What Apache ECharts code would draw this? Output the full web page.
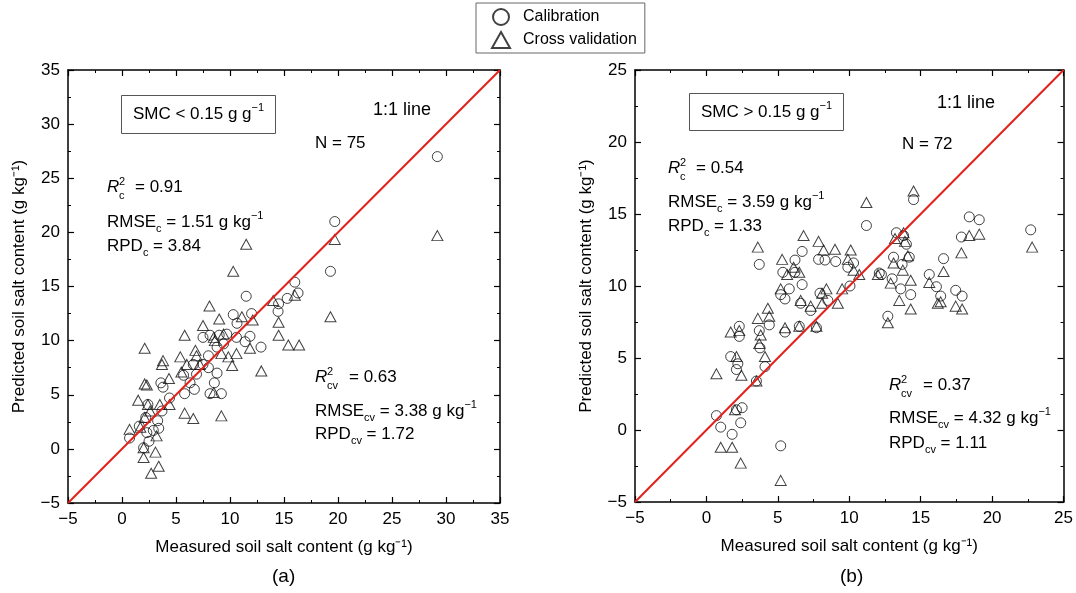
<!DOCTYPE html>
<html>
<head>
<meta charset="utf-8">
<script src="https://cdn.jsdelivr.net/npm/echarts@6/dist/echarts.min.js"></script>
<style>
  html, body { margin: 0; padding: 0; background: #fff; }
  #chart { width: 1076px; height: 593px; }
</style>
</head>
<body>
<div id="chart"></div>
<script>
// panel (a): SMC < 0.15, measured vs predicted [x, y]
const calibrationA = [
  [29.2, 27.0], [19.7, 21.0], [19.3, 16.4], [16.0, 15.4], [16.3, 14.4], [15.3, 13.9],
  [14.5, 13.4], [14.45, 12.7], [11.5, 14.1], [12.0, 12.5], [10.3, 12.4], [10.65, 11.6],
  [11.85, 10.4], [12.87, 9.4], [11.4, 9.9], [7.5, 10.3], [8.15, 10.5], [9.0, 10.5],
  [9.7, 10.6], [10.6, 10.3], [8.8, 9.4], [9.4, 9.7], [8.0, 8.6], [7.5, 7.8],
  [8.8, 7.0], [8.55, 6.1], [9.2, 5.1], [8.0, 7.5], [6.6, 7.8], [6.9, 6.9],
  [6.7, 5.5], [5.8, 5.1], [6.3, 6.1], [5.7, 6.8], [3.6, 6.1], [3.8, 5.7],
  [4.4, 4.7], [3.7, 3.5], [3.3, 2.6], [3.4, 1.9], [2.9, 1.7], [2.3, 1.5],
  [2.5, 0.7], [2.0, 0.1], [1.6, 2.1], [0.7, 1.0], [2.4, 4.1], [2.2, 2.9],
  [8.15, 5.1]
];
const crossValA = [
  [29.2, 19.7], [19.7, 19.35], [19.3, 12.2], [11.5, 18.9], [10.3, 16.4], [8.1, 13.2],
  [9.0, 12.0], [5.8, 10.5], [7.5, 11.4], [2.1, 9.3], [11.1, 12.2], [12.1, 11.9],
  [14.0, 13.7], [16.0, 14.2], [14.5, 11.7], [14.5, 10.5], [15.4, 9.6], [16.4, 9.6],
  [12.9, 7.2], [11.85, 9.3], [10.6, 8.8], [10.2, 7.7], [9.85, 8.5], [9.4, 10.6],
  [8.5, 10.3], [8.6, 10.0], [9.2, 8.8], [6.8, 9.1], [6.9, 8.6], [5.4, 8.5],
  [6.0, 7.8], [7.2, 7.8], [5.5, 7.1], [3.8, 8.15], [3.7, 7.8], [4.35, 6.5],
  [2.1, 6.0], [2.3, 5.9], [8.5, 5.2], [5.8, 3.3], [6.6, 2.8], [9.2, 3.05],
  [1.5, 4.5], [2.4, 4.1], [3.5, 4.1], [4.4, 4.1], [0.7, 1.8], [1.7, 2.0],
  [2.1, 2.9], [3.2, 1.2], [2.0, 0.1], [3.1, -0.3], [2.0, -0.8], [3.4, -1.6],
  [2.7, -2.25], [2.6, 3.5]
];

// panel (b): SMC > 0.15
const calibrationB = [
  [22.7, 13.9], [18.4, 14.8], [19.1, 14.6], [17.85, 13.4], [16.6, 11.9], [15.6, 10.8],
  [16.1, 9.95], [16.4, 9.3], [17.45, 9.7], [17.9, 9.3], [14.5, 16.0], [11.2, 14.2],
  [13.3, 13.7], [13.8, 13.5], [14.0, 12.9], [13.1, 12.0], [14.2, 12.0], [13.7, 11.5],
  [13.0, 10.5], [13.6, 9.8], [14.3, 9.4], [12.7, 7.9], [12.1, 10.9], [12.25, 10.8],
  [10.05, 10.0], [10.3, 11.6], [9.9, 11.3], [9.05, 11.7], [7.85, 11.85], [8.3, 11.8],
  [6.7, 12.4], [6.2, 11.8], [6.7, 10.1], [6.2, 10.95], [5.35, 10.95], [5.8, 9.8],
  [5.5, 9.1], [5.2, 9.4], [6.6, 8.8], [7.3, 8.3], [8.5, 9.0], [7.95, 9.5],
  [6.5, 7.2], [7.7, 7.1], [5.5, 6.8], [3.7, 11.5], [4.4, 7.3], [3.7, 6.9],
  [3.75, 5.7], [4.1, 4.4], [2.3, 7.2], [2.3, 6.5], [1.7, 5.1], [2.1, 4.2],
  [2.2, 4.6], [3.5, 3.4], [2.5, 1.55], [2.4, 0.5], [2.1, 1.4], [0.7, 1.0],
  [1.0, 0.2], [1.8, -0.3], [5.2, -1.1]
];
const crossValB = [
  [22.8, 12.7], [18.4, 13.5], [19.1, 13.6], [17.85, 12.3], [16.6, 11.0], [15.6, 10.25],
  [16.2, 8.8], [16.4, 8.9], [17.45, 8.6], [17.9, 8.4], [14.5, 16.6], [11.2, 15.8],
  [13.2, 13.3], [13.8, 13.7], [13.9, 13.1], [13.1, 11.6], [14.1, 12.1], [13.75, 11.1],
  [12.9, 10.2], [14.3, 10.4], [13.5, 9.0], [14.3, 8.4], [12.7, 7.45], [12.0, 10.8],
  [10.7, 10.8], [10.3, 11.1], [10.1, 12.5], [9.9, 11.85], [9.0, 12.55], [8.2, 12.5],
  [7.85, 13.1], [6.8, 13.5], [6.5, 10.95], [6.1, 11.3], [5.65, 10.8], [5.3, 11.85],
  [5.2, 9.8], [6.6, 9.0], [7.3, 8.6], [8.1, 9.5], [8.4, 9.8], [9.2, 8.8],
  [9.5, 9.8], [8.1, 8.8], [6.5, 7.2], [7.7, 7.2], [5.5, 7.1], [3.6, 12.7],
  [4.3, 8.45], [4.4, 7.9], [3.6, 7.75], [3.8, 6.6], [3.7, 6.0], [4.1, 5.1],
  [1.7, 6.8], [2.3, 6.9], [2.1, 5.1], [2.45, 3.8], [0.7, 3.9], [3.5, 3.4],
  [2.0, 1.4], [1.0, -1.2], [1.8, -1.2], [2.4, -2.3], [5.2, -3.5]
];

// axis ranges and the 1:1 reference line
const rangeA = [-5, 35];
const rangeB = [-5, 25];
const tickStep = 5;

const FONT = '"Liberation Sans", Arial, Helvetica, sans-serif';
const chart = echarts.init(document.getElementById('chart'), null, { renderer: 'canvas' });

function minus(v) {
  return String(v).replace('-', '\u2212');
}

// one value axis; mirrored copies (top/right) carry only ticks
function makeAxis(grid, range, position, withLabels, name, gap) {
  return {
    type: 'value',
    gridIndex: grid,
    min: range[0],
    max: range[1],
    interval: tickStep,
    position: position,
    name: name || '',
    nameLocation: 'middle',
    nameGap: gap || 0,
    nameTextStyle: { fontFamily: FONT, fontSize: 17, color: '#000' },
    axisLine: { show: true, onZero: false, lineStyle: { color: '#000', width: 1.5 } },
    axisTick: { show: true, inside: true, length: 6, lineStyle: { color: '#000', width: 1.2 } },
    minorTick: { show: true, splitNumber: 2, length: 3, lineStyle: { color: '#000', width: 1 } },
    axisLabel: {
      show: withLabels,
      fontFamily: FONT,
      fontSize: 17,
      color: '#000',
      margin: 8,
      formatter: minus
    },
    splitLine: { show: false }
  };
}

const xTitle = 'Measured soil salt content (g kg\u207B\u00B9)';
const yTitle = 'Predicted soil salt content (g kg\u207B\u00B9)';

function scatter(name, data, axisIdx, symbol, size) {
  return {
    name: name,
    type: 'scatter',
    data: data,
    xAxisIndex: axisIdx,
    yAxisIndex: axisIdx,
    symbol: symbol,
    symbolSize: size,
    itemStyle: { color: 'rgba(0,0,0,0)', borderColor: '#111', borderWidth: 1 },
    z: 2
  };
}

function oneToOne(range, axisIdx) {
  return {
    type: 'line',
    data: [[range[0], range[0]], [range[1], range[1]]],
    xAxisIndex: axisIdx,
    yAxisIndex: axisIdx,
    symbol: 'none',
    silent: true,
    lineStyle: { color: '#e3211c', width: 2 },
    z: 5
  };
}

const baseText = { fontFamily: FONT, fontSize: 17, fill: '#000' };
const rich = {
  n: { fontFamily: FONT, fontSize: 17, color: '#000', lineHeight: 24 },
  sub: { fontFamily: FONT, fontSize: 11, color: '#000', lineHeight: 12, verticalAlign: 'bottom' },
  sup: { fontFamily: FONT, fontSize: 11, color: '#000', lineHeight: 12, verticalAlign: 'top' }
};

function richText(x, y, text) {
  return {
    type: 'text', left: x, top: y - 12,
    style: Object.assign({}, baseText, { text: text, rich: rich })
  };
}

// R^2 with stacked super/subscript
function rSquared(x, y, subscript, value) {
  const restX = subscript.length > 1 ? 34 : 28;
  return {
    type: 'group', left: x, top: y - 12,
    children: [
      { type: 'text', x: 0, y: 2, style: Object.assign({}, baseText, { text: 'R', fontStyle: 'italic' }) },
      { type: 'text', x: 12, y: -1, style: Object.assign({}, baseText, { text: '2', fontSize: 11 }) },
      { type: 'text', x: 12, y: 13, style: Object.assign({}, baseText, { text: subscript, fontSize: 11 }) },
      { type: 'text', x: restX, y: 2, style: Object.assign({}, baseText, { text: '= ' + value }) }
    ]
  };
}

function smcBox(x, y, w, h, text) {
  return {
    type: 'group', left: x, top: y,
    children: [
      { type: 'rect', shape: { x: 0, y: 0, width: w, height: h }, style: { fill: '#fff', stroke: '#555', lineWidth: 1 } },
      { type: 'text', x: w / 2, y: h / 2, style: Object.assign({}, baseText, { text: text, rich: rich, align: 'center', verticalAlign: 'middle' }) }
    ]
  };
}

const option = {
  backgroundColor: '#fff',
  animation: false,
  legend: {
    data: ['Calibration', 'Cross validation'],
    orient: 'vertical',
    left: 476,
    top: 3,
    padding: [5, 8, 4, 15],
    itemGap: 5,
    itemWidth: 18,
    itemHeight: 16,
    borderColor: '#666',
    borderWidth: 1,
    textStyle: { fontFamily: FONT, fontSize: 16, color: '#000', padding: [0, 0, 0, 8] }
  },
  grid: [
    { left: 68, top: 70, width: 432, height: 433 },
    { left: 635, top: 70, width: 432, height: 432 }
  ],
  xAxis: [
    makeAxis(0, rangeA, 'bottom', true, xTitle, 36),
    makeAxis(1, rangeB, 'bottom', true, xTitle, 36),
    makeAxis(0, rangeA, 'top', false),
    makeAxis(1, rangeB, 'top', false)
  ],
  yAxis: [
    makeAxis(0, rangeA, 'left', true, yTitle, 40),
    makeAxis(1, rangeB, 'left', true, yTitle, 40),
    makeAxis(0, rangeA, 'right', false),
    makeAxis(1, rangeB, 'right', false)
  ],
  series: [
    scatter('Calibration', calibrationA, 0, 'circle', 10),
    scatter('Cross validation', crossValA, 0, 'triangle', [11, 10]),
    oneToOne(rangeA, 0),
    scatter('Calibration', calibrationB, 1, 'circle', 10),
    scatter('Cross validation', crossValB, 1, 'triangle', [11, 10]),
    oneToOne(rangeB, 1)
  ],
  graphic: [
    // panel (a)
    smcBox(121, 95, 154, 38, '{n|SMC < 0.15 g g}{sup|\u22121}'),
    { type: 'text', left: 373, top: 101, style: Object.assign({}, baseText, { text: '1:1 line', fontSize: 18 }) },
    { type: 'text', left: 315, top: 135, style: Object.assign({}, baseText, { text: 'N = 75' }) },
    rSquared(107, 188, 'c', '0.91'),
    richText(107, 222, '{n|RMSE}{sub|c}{n| = 1.51 g kg}{sup|\u22121}'),
    richText(107, 250, '{n|RPD}{sub|c}{n| = 3.84}'),
    rSquared(315, 378, 'cv', '0.63'),
    richText(315, 411, '{n|RMSE}{sub|cv}{n| = 3.38 g kg}{sup|\u22121}'),
    richText(315, 438, '{n|RPD}{sub|cv}{n| = 1.72}'),
    // panel (b)
    smcBox(689, 93, 154, 37, '{n|SMC > 0.15 g g}{sup|\u22121}'),
    { type: 'text', left: 937, top: 94, style: Object.assign({}, baseText, { text: '1:1 line', fontSize: 18 }) },
    { type: 'text', left: 902, top: 136, style: Object.assign({}, baseText, { text: 'N = 72' }) },
    rSquared(668, 169, 'c', '0.54'),
    richText(668, 202, '{n|RMSE}{sub|c}{n| = 3.59 g kg}{sup|\u22121}'),
    richText(668, 230, '{n|RPD}{sub|c}{n| = 1.33}'),
    rSquared(889, 386, 'cv', '0.37'),
    richText(889, 418, '{n|RMSE}{sub|cv}{n| = 4.32 g kg}{sup|\u22121}'),
    richText(889, 447, '{n|RPD}{sub|cv}{n| = 1.11}'),
    // panel captions
    { type: 'text', left: 272, top: 567, style: Object.assign({}, baseText, { text: '(a)', fontSize: 19 }) },
    { type: 'text', left: 840, top: 567, style: Object.assign({}, baseText, { text: '(b)', fontSize: 19 }) }
  ]
};

chart.setOption(option);
</script>
</body>
</html>
